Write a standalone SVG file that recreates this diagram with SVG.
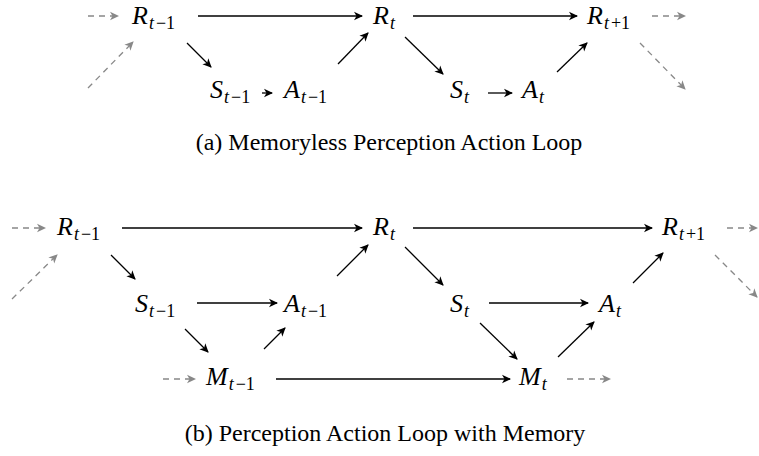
<svg xmlns="http://www.w3.org/2000/svg" width="759" height="456" viewBox="0 0 759 456">
<style>
.m{font-family:"Liberation Serif",serif;font-style:italic;font-size:26px;fill:#000}
.s{font-size:18px}
.u{font-style:normal}
.cap{font-family:"Liberation Serif",serif;font-size:24px;fill:#000;text-anchor:middle}
.e{stroke:#000;stroke-width:1.3;fill:none;marker-end:url(#ah)}
.d{stroke:#888;stroke-width:1.3;fill:none;stroke-dasharray:6 5;marker-end:url(#ag)}
</style>
<defs>
<marker id="ah" viewBox="-10 -5 12 10" refX="0" refY="0" markerWidth="12" markerHeight="10" orient="auto" markerUnits="userSpaceOnUse"><path d="M1,0 L-8,-4.2 L-5.5,0 L-8,4.2 z" fill="#000"/></marker>
<marker id="ag" viewBox="-10 -5 12 10" refX="0" refY="0" markerWidth="12" markerHeight="10" orient="auto" markerUnits="userSpaceOnUse"><path d="M1,0 L-8,-4.2 L-5.5,0 L-8,4.2 z" fill="#888"/></marker>
</defs>
<g id="connectors">
<line class="d" x1="88" y1="16" x2="118" y2="16"/>
<line class="d" x1="88" y1="88" x2="133" y2="42"/>
<line class="e" x1="198" y1="16" x2="362" y2="16"/>
<line class="e" x1="187" y1="43" x2="211" y2="67"/>
<line class="e" x1="262" y1="93" x2="272" y2="93"/>
<line class="e" x1="338" y1="64" x2="368" y2="33"/>
<line class="e" x1="413" y1="16" x2="577" y2="16"/>
<line class="e" x1="405" y1="37" x2="443" y2="74"/>
<line class="e" x1="488" y1="93" x2="512" y2="93"/>
<line class="e" x1="557" y1="72" x2="587" y2="43"/>
<line class="d" x1="652" y1="16" x2="685" y2="16"/>
<line class="d" x1="640" y1="43" x2="685" y2="89"/>
<line class="d" x1="12" y1="228" x2="45" y2="228"/>
<line class="d" x1="12" y1="299" x2="57" y2="255"/>
<line class="e" x1="122" y1="228" x2="362" y2="228"/>
<line class="e" x1="111" y1="255" x2="135" y2="279"/>
<line class="e" x1="197" y1="303" x2="277" y2="303"/>
<line class="e" x1="337" y1="276" x2="368" y2="245"/>
<line class="e" x1="185" y1="329" x2="208" y2="352"/>
<line class="e" x1="264" y1="349" x2="285" y2="328"/>
<line class="d" x1="163" y1="379" x2="195" y2="379"/>
<line class="e" x1="276" y1="379" x2="510" y2="379"/>
<line class="e" x1="413" y1="228" x2="652" y2="228"/>
<line class="e" x1="405" y1="247" x2="443" y2="285"/>
<line class="e" x1="489" y1="303" x2="588" y2="303"/>
<line class="e" x1="633" y1="283" x2="663" y2="253"/>
<line class="e" x1="480" y1="323" x2="517" y2="359"/>
<line class="e" x1="558" y1="357" x2="594" y2="322"/>
<line class="d" x1="567" y1="379" x2="610" y2="379"/>
<line class="d" x1="727" y1="228" x2="757" y2="228"/>
<line class="d" x1="715" y1="255" x2="757" y2="297"/>
</g>
<g id="a-R-tm1"><text class="m" x="132" y="24">R<tspan class="s" dx="1" dy="5">t</tspan><tspan class="s u" dx="2">−1</tspan></text></g>
<g id="a-R-t"><text class="m" x="373" y="24">R<tspan class="s" dx="1" dy="5">t</tspan></text></g>
<g id="a-R-tp1"><text class="m" x="587" y="24">R<tspan class="s" dx="1" dy="5">t</tspan><tspan class="s u" dx="2">+1</tspan></text></g>
<g id="a-S-tm1"><text class="m" x="210" y="98">S<tspan class="s" dx="1" dy="5">t</tspan><tspan class="s u" dx="2">−1</tspan></text></g>
<g id="a-A-tm1"><text class="m" x="284" y="98">A<tspan class="s" dx="1" dy="5">t</tspan><tspan class="s u" dx="2">−1</tspan></text></g>
<g id="a-S-t"><text class="m" x="450" y="98">S<tspan class="s" dx="1" dy="5">t</tspan></text></g>
<g id="a-A-t"><text class="m" x="522" y="98">A<tspan class="s" dx="1" dy="5">t</tspan></text></g>
<g id="cap-a"><text class="cap" x="389" y="150">(a)<tspan dx="6">Memoryless Perception Action Loop</tspan></text></g>
<g id="b-R-tm1"><text class="m" x="57" y="235">R<tspan class="s" dx="1" dy="5">t</tspan><tspan class="s u" dx="2">−1</tspan></text></g>
<g id="b-R-t"><text class="m" x="373" y="235">R<tspan class="s" dx="1" dy="5">t</tspan></text></g>
<g id="b-R-tp1"><text class="m" x="662" y="235">R<tspan class="s" dx="1" dy="5">t</tspan><tspan class="s u" dx="2">+1</tspan></text></g>
<g id="b-S-tm1"><text class="m" x="135" y="312">S<tspan class="s" dx="1" dy="5">t</tspan><tspan class="s u" dx="2">−1</tspan></text></g>
<g id="b-A-tm1"><text class="m" x="284" y="312">A<tspan class="s" dx="1" dy="5">t</tspan><tspan class="s u" dx="2">−1</tspan></text></g>
<g id="b-S-t"><text class="m" x="450" y="312">S<tspan class="s" dx="1" dy="5">t</tspan></text></g>
<g id="b-A-t"><text class="m" x="599" y="312">A<tspan class="s" dx="1" dy="5">t</tspan></text></g>
<g id="b-M-tm1"><text class="m" x="206" y="385">M<tspan class="s" dx="1" dy="5">t</tspan><tspan class="s u" dx="2">−1</tspan></text></g>
<g id="b-M-t"><text class="m" x="519" y="385">M<tspan class="s" dx="1" dy="5">t</tspan></text></g>
<g id="cap-b"><text class="cap" x="385" y="441">(b)<tspan dx="6">Perception Action Loop with Memory</tspan></text></g>
</svg>
